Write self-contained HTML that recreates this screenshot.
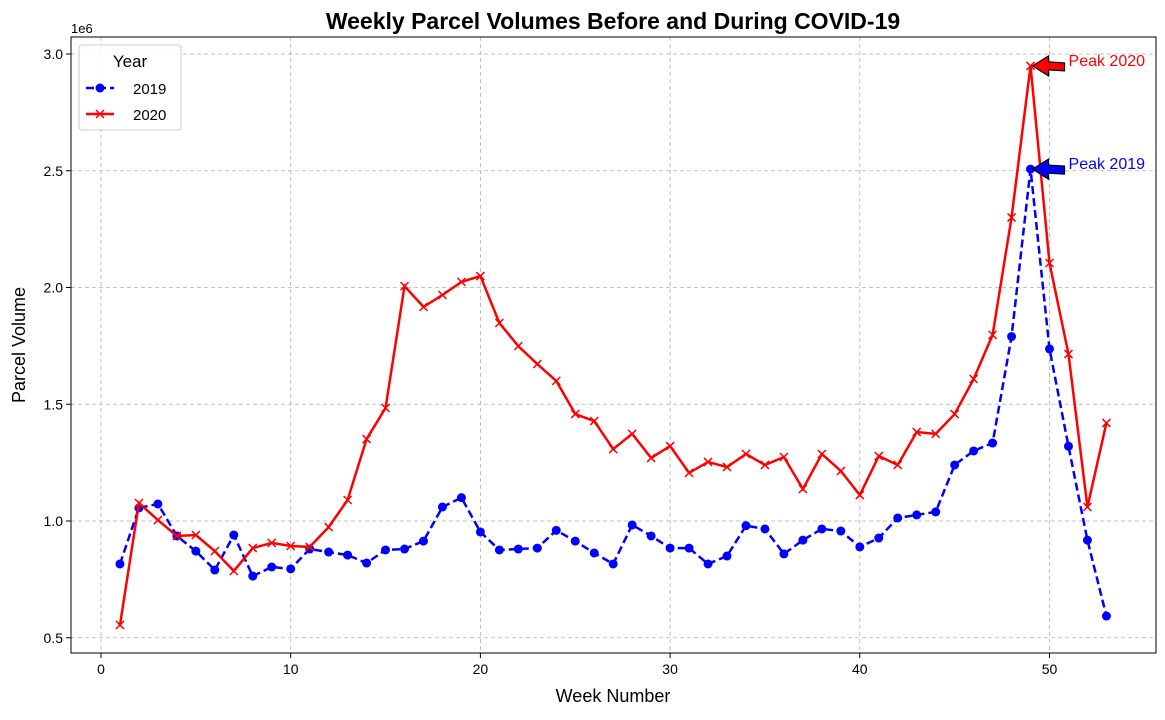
<!DOCTYPE html>
<html><head><meta charset="utf-8"><style>
body{margin:0;background:#fff;}
svg text{font-family:"Liberation Sans","DejaVu Sans",sans-serif;}
</style></head><body>
<svg id="chart" width="1165" height="715" xmlns="http://www.w3.org/2000/svg"></svg>
<script>
const weeks = Array.from({length:53},(_,i)=>i+1);
const vol2019 = [0.816,1.056,1.073,0.936,0.871,0.79,0.94,0.764,0.803,0.795,0.88,0.867,0.854,0.82,0.876,0.88,0.914,1.06,1.10,0.953,0.876,0.88,0.884,0.96,0.914,0.863,0.816,0.983,0.936,0.884,0.884,0.816,0.85,0.98,0.966,0.859,0.918,0.966,0.957,0.889,0.927,1.013,1.026,1.039,1.24,1.30,1.334,1.79,2.507,1.737,1.32,0.918,0.593];
const vol2020 = [0.555,1.077,1.004,0.936,0.94,0.871,0.786,0.884,0.906,0.893,0.889,0.974,1.09,1.351,1.484,2.006,1.917,1.968,2.024,2.049,1.848,1.749,1.672,1.60,1.458,1.428,1.308,1.373,1.27,1.321,1.206,1.253,1.231,1.287,1.24,1.274,1.137,1.287,1.214,1.111,1.278,1.24,1.381,1.373,1.458,1.608,1.797,2.30,2.949,2.105,1.715,1.06,1.42];
const xTicks = [0,10,20,30,40,50];
const yTicks = [0.5,1.0,1.5,2.0,2.5,3.0];
const yTickLabels = ["0.5","1.0","1.5","2.0","2.5","3.0"];

const NS="http://www.w3.org/2000/svg";
const svg=document.getElementById('chart');
const L=71,R=1156,T=37,B=653;
const X=v=>101+v*18.97;
const Y=v=>54+(3.0-v)*233.5;
function mk(tag,attrs,parent){const e=document.createElementNS(NS,tag);for(const k in attrs)e.setAttribute(k,attrs[k]);(parent||svg).appendChild(e);return e;}

// grid
xTicks.forEach(t=>{const g=mk('line',{x1:X(t),x2:X(t),y1:T,y2:B,stroke:'#b0b0b0','stroke-dasharray':'4,3','stroke-width':0.8});

});
yTicks.forEach(t=>{const g=mk('line',{x1:L,x2:R,y1:Y(t),y2:Y(t),stroke:'#b0b0b0','stroke-dasharray':'4,3','stroke-width':0.8});

});

// series
function series(vals,color,dash,marker,name){
  const pts=vals.map((v,i)=>X(weeks[i])+','+Y(v)).join(' ');
  const pl=mk('polyline',{points:pts,fill:'none',stroke:color,'stroke-width':2.5,'stroke-dasharray':dash});
  
  
  vals.forEach((v,i)=>{
    const cx=X(weeks[i]),cy=Y(v);let m;
    if(marker==='o'){m=mk('circle',{cx:cx,cy:cy,r:4.5,fill:color});}
    else{m=mk('path',{d:`M${cx-4},${cy-4}L${cx+4},${cy+4}M${cx-4},${cy+4}L${cx+4},${cy-4}`,stroke:color,'stroke-width':1.5});}
    
    
  });
}
series(vol2019,'#0000ff','8,4','o','series-2019');
series(vol2020,'#ff0000','','x','series-2020');

// annotations
function arrow(wk,val,color,label,name){
  const px=X(wk)+2,py=Y(val);
  const a=mk('path',{d:`M${px},${py} L${px+16},${py-10} L${px+16},${py-4} L${px+32},${py-3} L${px+32},${py+5} L${px+16},${py+4} L${px+16},${py+10} Z`,fill:color,stroke:'#000','stroke-width':1.2,'stroke-linejoin':'miter'});
  
  
  const t=mk('text',{x:px+36,y:py,fill:color,'font-size':16});t.textContent=label;
  
  
}
arrow(49,2.949,'#ff0000','Peak 2020','peak-2020');
arrow(49,2.507,'#0000ff','Peak 2019','peak-2019');

// axes frame
const fr=mk('rect',{x:L,y:T,width:R-L,height:B-T,fill:'none',stroke:'#000','stroke-width':1});



xTicks.forEach(t=>{mk('line',{x1:X(t),x2:X(t),y1:B,y2:B+5,stroke:'#000'});
const tx=mk('text',{x:X(t),y:B+21,'text-anchor':'middle','font-size':14});tx.textContent=t;

});
yTicks.forEach((t,i)=>{mk('line',{x1:L-5,x2:L,y1:Y(t),y2:Y(t),stroke:'#000'});
const tx=mk('text',{x:L-8,y:Y(t)+5,'text-anchor':'end','font-size':14});tx.textContent=yTickLabels[i];

});

const off=mk('text',{x:71,y:33,'font-size':13});off.textContent='1e6';


const tt=mk('text',{x:613,y:29,'text-anchor':'middle','font-size':23,'font-weight':'bold'});tt.textContent='Weekly Parcel Volumes Before and During COVID-19';


const xl=mk('text',{x:613,y:702,'text-anchor':'middle','font-size':18});xl.textContent='Week Number';


const yl=mk('text',{x:25,y:345,'text-anchor':'middle','font-size':18,transform:'rotate(-90 25 345)'});yl.textContent='Parcel Volume';



// legend
const lg=mk('g',{});


mk('rect',{x:79,y:45,width:102,height:85,rx:3,fill:'#fff','fill-opacity':0.85,stroke:'#ccc'},lg);
const lt=mk('text',{x:130,y:67,'text-anchor':'middle','font-size':17},lg);lt.textContent='Year';
const e1=mk('g',{},lg);


mk('line',{x1:86,x2:114,y1:88,y2:88,stroke:'#0000ff','stroke-width':2.5,'stroke-dasharray':'8,4'},e1);
mk('circle',{cx:100,cy:88,r:4.5,fill:'#0000ff'},e1);
const t1=mk('text',{x:133,y:94,'font-size':15},e1);t1.textContent='2019';
const e2=mk('g',{},lg);


mk('line',{x1:86,x2:114,y1:114,y2:114,stroke:'#ff0000','stroke-width':2.5},e2);
mk('path',{d:'M96,110L104,118M96,118L104,110',stroke:'#ff0000','stroke-width':1.5},e2);
const t2=mk('text',{x:133,y:120,'font-size':15},e2);t2.textContent='2020';
</script>
</body></html>
